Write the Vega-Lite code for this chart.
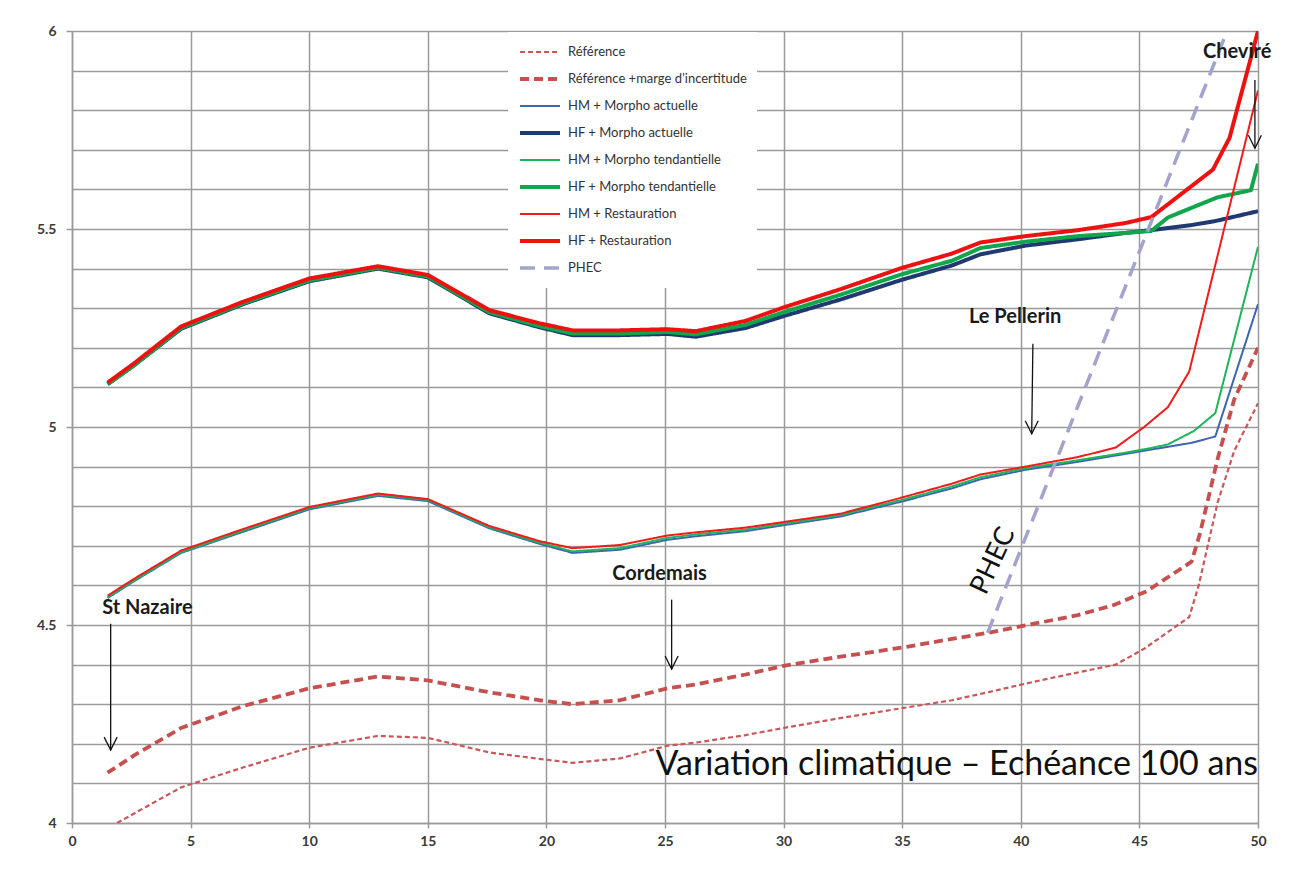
{
  "$schema": "https://vega.github.io/schema/vega-lite/v6.json",
  "autosize": "none",
  "width": 1186,
  "height": 792,
  "padding": {"left": 72, "top": 31, "right": 34, "bottom": 59},
  "background": "white",
  "config": {"view": {"stroke": null}, "font": "Lato"},
  "datasets": {
    "lines": [
      {"s": "Référence", "x": 1.9, "y": 4.0}, {"s": "Référence", "x": 4.6, "y": 4.09}, {"s": "Référence", "x": 7.2, "y": 4.14}, {"s": "Référence", "x": 10.0, "y": 4.19}, {"s": "Référence", "x": 12.9, "y": 4.22}, {"s": "Référence", "x": 15.0, "y": 4.215}, {"s": "Référence", "x": 17.6, "y": 4.178}, {"s": "Référence", "x": 19.7, "y": 4.162}, {"s": "Référence", "x": 21.1, "y": 4.152}, {"s": "Référence", "x": 23.1, "y": 4.163}, {"s": "Référence", "x": 25.1, "y": 4.195}, {"s": "Référence", "x": 26.3, "y": 4.203}, {"s": "Référence", "x": 28.4, "y": 4.222}, {"s": "Référence", "x": 30.0, "y": 4.24}, {"s": "Référence", "x": 32.4, "y": 4.265}, {"s": "Référence", "x": 35.0, "y": 4.29}, {"s": "Référence", "x": 37.1, "y": 4.31}, {"s": "Référence", "x": 38.6, "y": 4.33}, {"s": "Référence", "x": 40.8, "y": 4.36}, {"s": "Référence", "x": 42.4, "y": 4.38}, {"s": "Référence", "x": 44.0, "y": 4.4}, {"s": "Référence", "x": 45.2, "y": 4.44}, {"s": "Référence", "x": 47.1, "y": 4.52}, {"s": "Référence", "x": 47.5, "y": 4.6}, {"s": "Référence", "x": 48.3, "y": 4.81}, {"s": "Référence", "x": 49.0, "y": 4.94}, {"s": "Référence", "x": 50.0, "y": 5.06},
      {"s": "Référence +marge d’incertitude", "x": 1.5, "y": 4.127}, {"s": "Référence +marge d’incertitude", "x": 2.6, "y": 4.17}, {"s": "Référence +marge d’incertitude", "x": 4.6, "y": 4.24}, {"s": "Référence +marge d’incertitude", "x": 7.2, "y": 4.295}, {"s": "Référence +marge d’incertitude", "x": 10.0, "y": 4.34}, {"s": "Référence +marge d’incertitude", "x": 12.9, "y": 4.37}, {"s": "Référence +marge d’incertitude", "x": 15.0, "y": 4.36}, {"s": "Référence +marge d’incertitude", "x": 17.6, "y": 4.33}, {"s": "Référence +marge d’incertitude", "x": 19.7, "y": 4.31}, {"s": "Référence +marge d’incertitude", "x": 21.1, "y": 4.3}, {"s": "Référence +marge d’incertitude", "x": 23.1, "y": 4.31}, {"s": "Référence +marge d’incertitude", "x": 25.1, "y": 4.34}, {"s": "Référence +marge d’incertitude", "x": 26.3, "y": 4.35}, {"s": "Référence +marge d’incertitude", "x": 28.4, "y": 4.375}, {"s": "Référence +marge d’incertitude", "x": 30.0, "y": 4.397}, {"s": "Référence +marge d’incertitude", "x": 32.4, "y": 4.42}, {"s": "Référence +marge d’incertitude", "x": 35.0, "y": 4.443}, {"s": "Référence +marge d’incertitude", "x": 37.1, "y": 4.465}, {"s": "Référence +marge d’incertitude", "x": 38.6, "y": 4.48}, {"s": "Référence +marge d’incertitude", "x": 40.8, "y": 4.506}, {"s": "Référence +marge d’incertitude", "x": 42.4, "y": 4.525}, {"s": "Référence +marge d’incertitude", "x": 43.9, "y": 4.55}, {"s": "Référence +marge d’incertitude", "x": 45.3, "y": 4.585}, {"s": "Référence +marge d’incertitude", "x": 47.2, "y": 4.66}, {"s": "Référence +marge d’incertitude", "x": 47.55, "y": 4.73}, {"s": "Référence +marge d’incertitude", "x": 48.3, "y": 4.92}, {"s": "Référence +marge d’incertitude", "x": 49.0, "y": 5.07}, {"s": "Référence +marge d’incertitude", "x": 50.0, "y": 5.2},
      {"s": "HM + Morpho actuelle", "x": 1.5, "y": 4.568}, {"s": "HM + Morpho actuelle", "x": 2.6, "y": 4.61}, {"s": "HM + Morpho actuelle", "x": 4.6, "y": 4.682}, {"s": "HM + Morpho actuelle", "x": 7.2, "y": 4.735}, {"s": "HM + Morpho actuelle", "x": 10.0, "y": 4.792}, {"s": "HM + Morpho actuelle", "x": 12.9, "y": 4.826}, {"s": "HM + Morpho actuelle", "x": 15.0, "y": 4.813}, {"s": "HM + Morpho actuelle", "x": 17.6, "y": 4.744}, {"s": "HM + Morpho actuelle", "x": 19.7, "y": 4.705}, {"s": "HM + Morpho actuelle", "x": 21.1, "y": 4.682}, {"s": "HM + Morpho actuelle", "x": 23.1, "y": 4.69}, {"s": "HM + Morpho actuelle", "x": 25.1, "y": 4.715}, {"s": "HM + Morpho actuelle", "x": 26.3, "y": 4.724}, {"s": "HM + Morpho actuelle", "x": 28.4, "y": 4.737}, {"s": "HM + Morpho actuelle", "x": 30.0, "y": 4.752}, {"s": "HM + Morpho actuelle", "x": 32.4, "y": 4.774}, {"s": "HM + Morpho actuelle", "x": 35.0, "y": 4.812}, {"s": "HM + Morpho actuelle", "x": 37.1, "y": 4.845}, {"s": "HM + Morpho actuelle", "x": 38.3, "y": 4.868}, {"s": "HM + Morpho actuelle", "x": 40.2, "y": 4.892}, {"s": "HM + Morpho actuelle", "x": 42.4, "y": 4.912}, {"s": "HM + Morpho actuelle", "x": 44.4, "y": 4.932}, {"s": "HM + Morpho actuelle", "x": 45.5, "y": 4.943}, {"s": "HM + Morpho actuelle", "x": 47.2, "y": 4.96}, {"s": "HM + Morpho actuelle", "x": 48.2, "y": 4.976}, {"s": "HM + Morpho actuelle", "x": 50.0, "y": 5.31},
      {"s": "HF + Morpho actuelle", "x": 1.5, "y": 5.108}, {"s": "HF + Morpho actuelle", "x": 2.6, "y": 5.155}, {"s": "HF + Morpho actuelle", "x": 4.6, "y": 5.248}, {"s": "HF + Morpho actuelle", "x": 7.2, "y": 5.31}, {"s": "HF + Morpho actuelle", "x": 10.0, "y": 5.368}, {"s": "HF + Morpho actuelle", "x": 12.9, "y": 5.4}, {"s": "HF + Morpho actuelle", "x": 15.0, "y": 5.378}, {"s": "HF + Morpho actuelle", "x": 17.6, "y": 5.287}, {"s": "HF + Morpho actuelle", "x": 19.7, "y": 5.252}, {"s": "HF + Morpho actuelle", "x": 21.1, "y": 5.232}, {"s": "HF + Morpho actuelle", "x": 23.1, "y": 5.232}, {"s": "HF + Morpho actuelle", "x": 25.1, "y": 5.235}, {"s": "HF + Morpho actuelle", "x": 26.3, "y": 5.228}, {"s": "HF + Morpho actuelle", "x": 28.4, "y": 5.25}, {"s": "HF + Morpho actuelle", "x": 30.0, "y": 5.28}, {"s": "HF + Morpho actuelle", "x": 32.4, "y": 5.322}, {"s": "HF + Morpho actuelle", "x": 35.0, "y": 5.372}, {"s": "HF + Morpho actuelle", "x": 37.1, "y": 5.408}, {"s": "HF + Morpho actuelle", "x": 38.3, "y": 5.436}, {"s": "HF + Morpho actuelle", "x": 40.2, "y": 5.458}, {"s": "HF + Morpho actuelle", "x": 42.4, "y": 5.474}, {"s": "HF + Morpho actuelle", "x": 44.4, "y": 5.49}, {"s": "HF + Morpho actuelle", "x": 45.5, "y": 5.497}, {"s": "HF + Morpho actuelle", "x": 47.2, "y": 5.51}, {"s": "HF + Morpho actuelle", "x": 48.2, "y": 5.52}, {"s": "HF + Morpho actuelle", "x": 50.0, "y": 5.545},
      {"s": "HM + Morpho tendantielle", "x": 1.5, "y": 4.57}, {"s": "HM + Morpho tendantielle", "x": 2.6, "y": 4.612}, {"s": "HM + Morpho tendantielle", "x": 4.6, "y": 4.684}, {"s": "HM + Morpho tendantielle", "x": 7.2, "y": 4.738}, {"s": "HM + Morpho tendantielle", "x": 10.0, "y": 4.795}, {"s": "HM + Morpho tendantielle", "x": 12.9, "y": 4.829}, {"s": "HM + Morpho tendantielle", "x": 15.0, "y": 4.816}, {"s": "HM + Morpho tendantielle", "x": 17.6, "y": 4.747}, {"s": "HM + Morpho tendantielle", "x": 19.7, "y": 4.708}, {"s": "HM + Morpho tendantielle", "x": 21.1, "y": 4.686}, {"s": "HM + Morpho tendantielle", "x": 23.1, "y": 4.694}, {"s": "HM + Morpho tendantielle", "x": 25.1, "y": 4.72}, {"s": "HM + Morpho tendantielle", "x": 26.3, "y": 4.729}, {"s": "HM + Morpho tendantielle", "x": 28.4, "y": 4.741}, {"s": "HM + Morpho tendantielle", "x": 30.0, "y": 4.756}, {"s": "HM + Morpho tendantielle", "x": 32.4, "y": 4.778}, {"s": "HM + Morpho tendantielle", "x": 35.0, "y": 4.816}, {"s": "HM + Morpho tendantielle", "x": 37.1, "y": 4.85}, {"s": "HM + Morpho tendantielle", "x": 38.3, "y": 4.873}, {"s": "HM + Morpho tendantielle", "x": 40.2, "y": 4.896}, {"s": "HM + Morpho tendantielle", "x": 42.4, "y": 4.916}, {"s": "HM + Morpho tendantielle", "x": 44.4, "y": 4.935}, {"s": "HM + Morpho tendantielle", "x": 45.5, "y": 4.947}, {"s": "HM + Morpho tendantielle", "x": 46.2, "y": 4.956}, {"s": "HM + Morpho tendantielle", "x": 47.3, "y": 4.99}, {"s": "HM + Morpho tendantielle", "x": 48.2, "y": 5.035}, {"s": "HM + Morpho tendantielle", "x": 50.0, "y": 5.455},
      {"s": "HF + Morpho tendantielle", "x": 1.5, "y": 5.108}, {"s": "HF + Morpho tendantielle", "x": 2.6, "y": 5.155}, {"s": "HF + Morpho tendantielle", "x": 4.6, "y": 5.25}, {"s": "HF + Morpho tendantielle", "x": 7.2, "y": 5.312}, {"s": "HF + Morpho tendantielle", "x": 10.0, "y": 5.37}, {"s": "HF + Morpho tendantielle", "x": 12.9, "y": 5.402}, {"s": "HF + Morpho tendantielle", "x": 15.0, "y": 5.38}, {"s": "HF + Morpho tendantielle", "x": 17.6, "y": 5.29}, {"s": "HF + Morpho tendantielle", "x": 19.7, "y": 5.255}, {"s": "HF + Morpho tendantielle", "x": 21.1, "y": 5.236}, {"s": "HF + Morpho tendantielle", "x": 23.1, "y": 5.236}, {"s": "HF + Morpho tendantielle", "x": 25.1, "y": 5.24}, {"s": "HF + Morpho tendantielle", "x": 26.3, "y": 5.234}, {"s": "HF + Morpho tendantielle", "x": 28.4, "y": 5.258}, {"s": "HF + Morpho tendantielle", "x": 30.0, "y": 5.29}, {"s": "HF + Morpho tendantielle", "x": 32.4, "y": 5.334}, {"s": "HF + Morpho tendantielle", "x": 35.0, "y": 5.386}, {"s": "HF + Morpho tendantielle", "x": 37.1, "y": 5.42}, {"s": "HF + Morpho tendantielle", "x": 38.3, "y": 5.452}, {"s": "HF + Morpho tendantielle", "x": 40.2, "y": 5.468}, {"s": "HF + Morpho tendantielle", "x": 42.4, "y": 5.482}, {"s": "HF + Morpho tendantielle", "x": 44.4, "y": 5.49}, {"s": "HF + Morpho tendantielle", "x": 45.5, "y": 5.495}, {"s": "HF + Morpho tendantielle", "x": 46.2, "y": 5.529}, {"s": "HF + Morpho tendantielle", "x": 47.3, "y": 5.556}, {"s": "HF + Morpho tendantielle", "x": 48.3, "y": 5.58}, {"s": "HF + Morpho tendantielle", "x": 49.7, "y": 5.598}, {"s": "HF + Morpho tendantielle", "x": 50.0, "y": 5.665},
      {"s": "HM + Restauration", "x": 1.5, "y": 4.574}, {"s": "HM + Restauration", "x": 2.6, "y": 4.616}, {"s": "HM + Restauration", "x": 4.6, "y": 4.688}, {"s": "HM + Restauration", "x": 7.2, "y": 4.742}, {"s": "HM + Restauration", "x": 10.0, "y": 4.798}, {"s": "HM + Restauration", "x": 12.9, "y": 4.832}, {"s": "HM + Restauration", "x": 15.0, "y": 4.818}, {"s": "HM + Restauration", "x": 17.6, "y": 4.75}, {"s": "HM + Restauration", "x": 19.7, "y": 4.712}, {"s": "HM + Restauration", "x": 21.1, "y": 4.694}, {"s": "HM + Restauration", "x": 23.1, "y": 4.702}, {"s": "HM + Restauration", "x": 25.1, "y": 4.726}, {"s": "HM + Restauration", "x": 26.3, "y": 4.734}, {"s": "HM + Restauration", "x": 28.4, "y": 4.746}, {"s": "HM + Restauration", "x": 30.0, "y": 4.76}, {"s": "HM + Restauration", "x": 32.4, "y": 4.781}, {"s": "HM + Restauration", "x": 35.0, "y": 4.822}, {"s": "HM + Restauration", "x": 37.1, "y": 4.857}, {"s": "HM + Restauration", "x": 38.3, "y": 4.88}, {"s": "HM + Restauration", "x": 40.2, "y": 4.9}, {"s": "HM + Restauration", "x": 42.4, "y": 4.924}, {"s": "HM + Restauration", "x": 44.0, "y": 4.948}, {"s": "HM + Restauration", "x": 45.2, "y": 5.0}, {"s": "HM + Restauration", "x": 46.2, "y": 5.05}, {"s": "HM + Restauration", "x": 47.1, "y": 5.14}, {"s": "HM + Restauration", "x": 50.0, "y": 5.85},
      {"s": "HF + Restauration", "x": 1.5, "y": 5.112}, {"s": "HF + Restauration", "x": 2.6, "y": 5.16}, {"s": "HF + Restauration", "x": 4.6, "y": 5.254}, {"s": "HF + Restauration", "x": 7.2, "y": 5.316}, {"s": "HF + Restauration", "x": 10.0, "y": 5.375}, {"s": "HF + Restauration", "x": 12.9, "y": 5.406}, {"s": "HF + Restauration", "x": 15.0, "y": 5.384}, {"s": "HF + Restauration", "x": 17.6, "y": 5.295}, {"s": "HF + Restauration", "x": 19.7, "y": 5.262}, {"s": "HF + Restauration", "x": 21.1, "y": 5.244}, {"s": "HF + Restauration", "x": 23.1, "y": 5.244}, {"s": "HF + Restauration", "x": 25.1, "y": 5.247}, {"s": "HF + Restauration", "x": 26.3, "y": 5.242}, {"s": "HF + Restauration", "x": 28.4, "y": 5.268}, {"s": "HF + Restauration", "x": 30.0, "y": 5.302}, {"s": "HF + Restauration", "x": 32.4, "y": 5.348}, {"s": "HF + Restauration", "x": 35.0, "y": 5.402}, {"s": "HF + Restauration", "x": 37.1, "y": 5.438}, {"s": "HF + Restauration", "x": 38.3, "y": 5.466}, {"s": "HF + Restauration", "x": 40.2, "y": 5.482}, {"s": "HF + Restauration", "x": 42.4, "y": 5.497}, {"s": "HF + Restauration", "x": 44.4, "y": 5.515}, {"s": "HF + Restauration", "x": 45.5, "y": 5.53}, {"s": "HF + Restauration", "x": 46.8, "y": 5.59}, {"s": "HF + Restauration", "x": 48.1, "y": 5.65}, {"s": "HF + Restauration", "x": 48.8, "y": 5.73}, {"s": "HF + Restauration", "x": 50.0, "y": 6.0},
      {"s": "PHEC", "x": 38.6, "y": 4.48}, {"s": "PHEC", "x": 48.7, "y": 6.0}
    ],
    "stations": [
      {"label": "St Nazaire", "x": 3.18, "y": 4.544},
      {"label": "Cordemais", "x": 24.77, "y": 4.629},
      {"label": "Le Pellerin", "x": 39.76, "y": 5.277},
      {"label": "Cheviré", "x": 49.12, "y": 5.948}
    ],
    "arrows": [
      {"xs": 1.63, "ys": 4.503, "x": 1.63, "y": 4.184},
      {"xs": 25.28, "ys": 4.564, "x": 25.28, "y": 4.389},
      {"xs": 40.51, "ys": 5.21, "x": 40.46, "y": 4.983},
      {"xs": 49.87, "ys": 5.876, "x": 49.87, "y": 5.704}
    ],
    "phec": [{"label": "PHEC", "x": 38.84, "y": 4.662}],
    "caption": [{"label": "Variation climatique – Echéance 100 ans", "x": 37.3, "y": 4.12}]
  },
  "encoding": {
    "x": {
      "field": "x", "type": "quantitative",
      "scale": {"domain": [0, 50], "nice": false, "zero": false},
      "axis": {
        "title": null, "values": [0, 5, 10, 15, 20, 25, 30, 35, 40, 45, 50],
        "grid": true, "gridColor": "#9a9a9a", "gridWidth": 1.5,
        "domain": true, "domainColor": "#9a9a9a", "domainWidth": 1.5,
        "ticks": true, "tickColor": "#9a9a9a", "tickSize": 5, "tickWidth": 1.5,
        "labelFont": "Lato", "labelFontSize": 14, "labelFontWeight": "bold", "labelColor": "#3a3a3a",
        "labelPadding": 6, "labelFlush": false, "labelOverlap": false
      }
    },
    "y": {
      "field": "y", "type": "quantitative",
      "scale": {"domain": [4, 6], "nice": false, "zero": false},
      "axis": {
        "title": null,
        "values": [4, 4.1, 4.2, 4.3, 4.4, 4.5, 4.6, 4.7, 4.8, 4.9, 5, 5.1, 5.2, 5.3, 5.4, 5.5, 5.6, 5.7, 5.8, 5.9, 6],
        "labelExpr": "round(datum.value*10) % 5 == 0 ? format(datum.value, '.1~f') : ''",
        "grid": true, "gridColor": "#9a9a9a", "gridWidth": 1.5,
        "domain": true, "domainColor": "#9a9a9a", "domainWidth": 1.5,
        "ticks": true, "tickColor": "#9a9a9a", "tickSize": 6, "tickWidth": 1.5,
        "tickOpacity": {"condition": {"test": "round(datum.value*10) % 5 == 0", "value": 1}, "value": 0},
        "labelFont": "Lato", "labelFontSize": 14, "labelFontWeight": "bold", "labelColor": "#3a3a3a",
        "labelPadding": 10, "labelFlush": false, "labelOverlap": false
      }
    }
  },
  "layer": [
    {
      "data": {"name": "lines"},
      "mark": {"type": "line", "clip": true, "strokeCap": "butt", "strokeJoin": "round"},
      "encoding": {
        "color": {
          "field": "s", "type": "nominal",
          "scale": {
            "domain": ["Référence", "Référence +marge d’incertitude", "HM + Morpho actuelle", "HF + Morpho actuelle", "HM + Morpho tendantielle", "HF + Morpho tendantielle", "HM + Restauration", "HF + Restauration", "PHEC"],
            "range": ["#c8585a", "#c4504f", "#3d66ad", "#1f3a70", "#1fb45a", "#12a64c", "#f21a1a", "#ee1111", "#a3a3cc"]
          },
          "legend": {
            "title": null, "orient": "none", "legendX": 436, "legendY": 1,
            "fillColor": "white", "padding": 10,
            "symbolType": "stroke", "symbolSize": 1600,
            "labelFont": "Lato", "labelFontSize": 13, "labelColor": "#333333", "labelOffset": 6, "labelLimit": 400,
            "clipHeight": 20, "rowPadding": 7
          }
        },
        "strokeDash": {
          "field": "s", "type": "nominal",
          "scale": {
            "domain": ["Référence", "Référence +marge d’incertitude", "HM + Morpho actuelle", "HF + Morpho actuelle", "HM + Morpho tendantielle", "HF + Morpho tendantielle", "HM + Restauration", "HF + Restauration", "PHEC"],
            "range": [[5, 3], [9, 5], [1, 0], [1, 0], [1, 0], [1, 0], [1, 0], [1, 0], [15, 9]]
          },
          "legend": {
            "title": null, "orient": "none", "legendX": 436, "legendY": 1,
            "fillColor": "white", "padding": 10,
            "symbolType": "stroke", "symbolSize": 1600,
            "labelFont": "Lato", "labelFontSize": 13, "labelColor": "#333333", "labelOffset": 6, "labelLimit": 400,
            "clipHeight": 20, "rowPadding": 7
          }
        },
        "strokeWidth": {
          "field": "s", "type": "nominal",
          "scale": {
            "type": "ordinal",
            "domain": ["Référence", "Référence +marge d’incertitude", "HM + Morpho actuelle", "HF + Morpho actuelle", "HM + Morpho tendantielle", "HF + Morpho tendantielle", "HM + Restauration", "HF + Restauration", "PHEC"],
            "range": [2.2, 3.8, 2, 4, 2, 4, 2, 4, 3.5]
          },
          "legend": {
            "title": null, "orient": "none", "legendX": 436, "legendY": 1,
            "fillColor": "white", "padding": 10,
            "symbolType": "stroke", "symbolSize": 1600,
            "labelFont": "Lato", "labelFontSize": 13, "labelColor": "#333333", "labelOffset": 6, "labelLimit": 400,
            "clipHeight": 20, "rowPadding": 7
          }
        }
      }
    },
    {
      "data": {"name": "arrows"},
      "mark": {"type": "rule", "color": "#111111", "strokeWidth": 1.3},
      "encoding": {
        "x2": {"field": "xs"},
        "y2": {"field": "ys"}
      }
    },
    {
      "data": {"name": "arrows"},
      "mark": {"type": "point", "shape": "M -0.5 -1 L 0 0 L 0.5 -1", "filled": false, "stroke": "#111111", "strokeWidth": 1.3, "size": 676, "opacity": 1}
    },
    {
      "data": {"name": "stations"},
      "mark": {"type": "text", "font": "Lato", "fontSize": 20, "fontWeight": "bold", "color": "#1a1a1a", "align": "center", "baseline": "middle"},
      "encoding": {
        "text": {"field": "label"}
      }
    },
    {
      "data": {"name": "phec"},
      "mark": {"type": "text", "font": "Lato", "fontSize": 27, "angle": -65, "color": "#111111", "align": "center", "baseline": "middle"},
      "encoding": {
        "text": {"field": "label"}
      }
    },
    {
      "data": {"name": "caption"},
      "mark": {"type": "text", "font": "Lato", "fontSize": 34, "color": "#111111", "align": "center", "baseline": "alphabetic"},
      "encoding": {
        "text": {"field": "label"}
      }
    }
  ]
}
